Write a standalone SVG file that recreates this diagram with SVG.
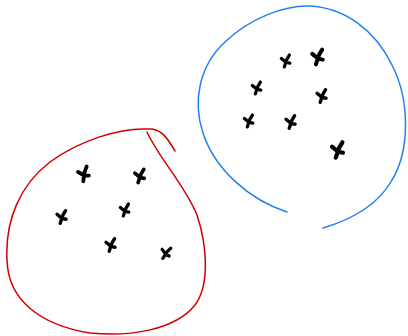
<svg xmlns="http://www.w3.org/2000/svg" xmlns:xlink="http://www.w3.org/1999/xlink" width="408" height="336" viewBox="0 0 408 336">
<style>
.red{fill:none;stroke:#d00000;stroke-width:1.5;stroke-linecap:round}
.blue{fill:none;stroke:#2080f0;stroke-width:1.5;stroke-linecap:round}
.mk{fill:none;stroke:#000;stroke-width:3.8;stroke-linecap:round;stroke-linejoin:round}
</style>
<defs>
<path id="m" class="mk" d="M-5.5,-3 L0,1.5 L4.5,2.5 M4,-7 L1,-2 L-2,7"/>
</defs>
<rect width="408" height="336" fill="#fff"/>
<g id="red-cluster">
<path class="red" d="M175,151 C168,139 162,130 152,129 L147,129 C120,128 80,140 50,162 C20,185 5,220 7,260 C8,300 40,325 90,333 C130,337 175,330 195,305 C210,285 207,245 197,215 C185,185 160,160 147,132"/>
<use xlink:href="#m" transform="translate(84,174) rotate(-10)"/>
<use xlink:href="#m" transform="translate(140,176) scale(0.95)"/>
<use xlink:href="#m" transform="translate(62,217) scale(0.9)"/>
<use xlink:href="#m" transform="translate(125,210) scale(0.85)"/>
<use xlink:href="#m" transform="translate(111,245) scale(0.9)"/>
<use xlink:href="#m" transform="translate(166,253) rotate(15) scale(0.85)"/>
</g>
<g id="blue-cluster">
<path class="blue" d="M287,212 C250,200 215,170 203,133 C192,100 200,65 225,42 C250,18 285,5 310,6 C345,8 375,30 392,65 C410,100 410,150 392,180 C378,205 350,220 323,228"/>
<use xlink:href="#m" transform="translate(286,61) scale(0.85)"/>
<use xlink:href="#m" transform="translate(318,57) scale(1.05)"/>
<use xlink:href="#m" transform="translate(257,88) scale(0.85)"/>
<use xlink:href="#m" transform="translate(322,96) scale(0.9)"/>
<use xlink:href="#m" transform="translate(249,121) scale(0.85)"/>
<use xlink:href="#m" transform="translate(291,122) scale(0.9)"/>
<use xlink:href="#m" transform="translate(338,150) scale(1.1)"/>
</g>
</svg>
